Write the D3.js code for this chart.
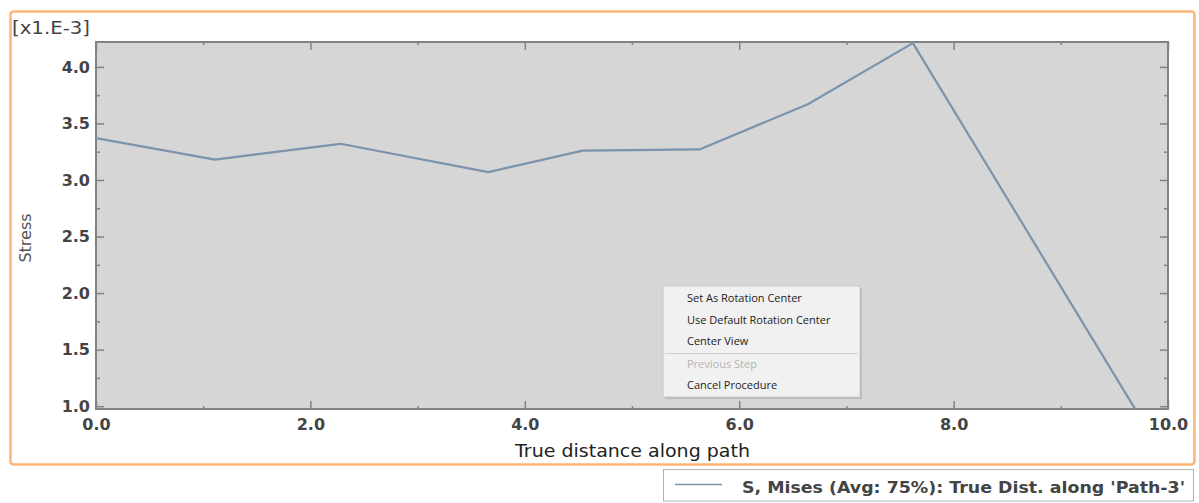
<!DOCTYPE html>
<html>
<head>
<meta charset="utf-8">
<script src="https://cdn.jsdelivr.net/npm/d3@7"></script>
<style>
  html, body { margin: 0; padding: 0; background: #ffffff; }
  svg { display: block; }
</style>
</head>
<body>
<svg id="chart" width="1199" height="503"></svg>
<script>
// ---- data ----
const distance = [0.0, 1.11, 2.28, 3.66, 4.54, 5.63, 6.64, 7.62, 9.69];
const stress   = [3.37, 3.18, 3.32, 3.07, 3.26, 3.27, 3.67, 4.21, 0.98];
const xMajorTicks = [0, 2, 4, 6, 8, 10];
const xMinorTicks = [1, 3, 5, 7, 9];
const yMajorTicks = [1.0, 1.5, 2.0, 2.5, 3.0, 3.5, 4.0];
const yMinorTicks = [1.25, 1.75, 2.25, 2.75, 3.25, 3.75];
const yScaleLabel = "[x1.E-3]";
const yTitle = "Stress";
const xTitle = "True distance along path";
const legendLabel = "S, Mises (Avg: 75%): True Dist. along 'Path-3'";
const menuItems = ["Set As Rotation Center", "Use Default Rotation Center", "Center View", "Previous Step", "Cancel Procedure"];
const menuDisabled = [false, false, false, true, false];

// ---- layout ----
const svg = d3.select("#chart");
const L = 96, R = 1168, T = 42, B = 409;
const x = d3.scaleLinear().domain([0, 10]).range([L, R]);
const y = d3.scaleLinear().domain([0.975, 4.22]).range([B, T]);
const frameColor = "#828282";
const font = "'DejaVu Sans', Verdana, sans-serif";

// orange outer frame
svg.append("rect")
  .attr("x", 10.5).attr("y", 11.5).attr("width", 1184).attr("height", 453)
  .attr("rx", 3).attr("fill", "none")
  .attr("stroke", "#fcb677").attr("stroke-width", 2.5);

// plot background
svg.append("rect")
  .attr("x", L).attr("y", T).attr("width", R - L).attr("height", B - T)
  .attr("fill", "#d6d6d6");

// clip
svg.append("defs").append("clipPath").attr("id", "plotclip")
  .append("rect").attr("x", L).attr("y", T).attr("width", R - L).attr("height", B - T);

// axes helpers
function styleAxis(g) {
  g.select(".domain").remove();
  g.selectAll("line").attr("stroke", frameColor).attr("stroke-width", 1.5);
  g.selectAll("text").attr("fill", "#444").attr("font-family", font)
    .attr("font-size", 16).attr("font-weight", "bold");
}
const fmt = d3.format(".1f");

// bottom major
svg.append("g").attr("transform", `translate(0,${B})`)
  .call(d3.axisBottom(x).tickValues(xMajorTicks).tickFormat(fmt).tickSizeInner(-8).tickSizeOuter(0).tickPadding(10))
  .call(styleAxis);
// bottom minor
svg.append("g").attr("transform", `translate(0,${B})`)
  .call(d3.axisBottom(x).tickValues(xMinorTicks).tickFormat("").tickSizeInner(-3).tickSizeOuter(0))
  .call(styleAxis);
// top
svg.append("g").attr("transform", `translate(0,${T})`)
  .call(d3.axisTop(x).tickValues(xMajorTicks).tickFormat("").tickSizeInner(-8).tickSizeOuter(0))
  .call(styleAxis);
svg.append("g").attr("transform", `translate(0,${T})`)
  .call(d3.axisTop(x).tickValues(xMinorTicks).tickFormat("").tickSizeInner(-3).tickSizeOuter(0))
  .call(styleAxis);
// left
svg.append("g").attr("transform", `translate(${L},0)`)
  .call(d3.axisLeft(y).tickValues(yMajorTicks).tickFormat(fmt).tickSizeInner(-8).tickSizeOuter(0).tickPadding(6))
  .call(styleAxis);
svg.append("g").attr("transform", `translate(${L},0)`)
  .call(d3.axisLeft(y).tickValues(yMinorTicks).tickFormat("").tickSizeInner(-4).tickSizeOuter(0))
  .call(styleAxis);
// right
svg.append("g").attr("transform", `translate(${R},0)`)
  .call(d3.axisRight(y).tickValues(yMajorTicks).tickFormat("").tickSizeInner(-8).tickSizeOuter(0))
  .call(styleAxis);
svg.append("g").attr("transform", `translate(${R},0)`)
  .call(d3.axisRight(y).tickValues(yMinorTicks).tickFormat("").tickSizeInner(-4).tickSizeOuter(0))
  .call(styleAxis);

// frame
svg.append("rect")
  .attr("x", L).attr("y", T).attr("width", R - L).attr("height", B - T)
  .attr("fill", "none").attr("stroke", frameColor).attr("stroke-width", 2);

// data line
const pts = distance.map((d, i) => [d, stress[i]]);
svg.append("path")
  .datum(pts)
  .attr("clip-path", "url(#plotclip)")
  .attr("fill", "none")
  .attr("stroke", "#7b93ab")
  .attr("stroke-width", 2.2)
  .attr("stroke-linejoin", "round")
  .attr("d", d3.line().x(d => x(d[0])).y(d => y(d[1])));

// scale label and titles
svg.append("text").attr("x", 12).attr("y", 34)
  .attr("font-family", font).attr("font-size", 17).attr("fill", "#444")
  .attr("textLength", 78).attr("lengthAdjust", "spacingAndGlyphs")
  .text(yScaleLabel);
svg.append("text")
  .attr("transform", "translate(31,238) rotate(-90)")
  .attr("text-anchor", "middle")
  .attr("font-family", font).attr("font-size", 16).attr("fill", "#555")
  .text(yTitle);
svg.append("text").attr("x", 515).attr("y", 457)
  .attr("font-family", font).attr("font-size", 17).attr("fill", "#222")
  .attr("textLength", 235).attr("lengthAdjust", "spacingAndGlyphs")
  .text(xTitle);

// context menu overlay
const mx = 663, my = 286, mw = 197, mh = 111;
svg.append("rect").attr("x", mx + 2).attr("y", my + 2).attr("width", mw).attr("height", mh)
  .attr("fill", "#a8a8a8").attr("opacity", 0.6);
svg.append("rect").attr("x", mx).attr("y", my).attr("width", mw).attr("height", mh)
  .attr("fill", "#f1f1f1").attr("stroke", "#c8c8c8").attr("stroke-width", 1);
const itemY = [302, 324, 345, 368, 389];
menuItems.forEach((t, i) => {
  svg.append("text").attr("x", 687).attr("y", itemY[i])
    .attr("font-family", "'Open Sans', 'Liberation Sans', sans-serif")
    .attr("font-size", 11)
    .attr("fill", menuDisabled[i] ? "#b4b4b4" : "#222")
    .text(t);
});
svg.append("line").attr("x1", mx + 2).attr("x2", mx + mw - 2).attr("y1", 353.5).attr("y2", 353.5)
  .attr("stroke", "#d0d0d0").attr("stroke-width", 1);

// legend
svg.append("rect").attr("x", 663.5).attr("y", 469.5).attr("width", 530).attr("height", 31.5)
  .attr("fill", "#fff").attr("stroke", "#b0b0b0").attr("stroke-width", 1);
svg.append("line").attr("x1", 675).attr("x2", 722).attr("y1", 484.5).attr("y2", 484.5)
  .attr("stroke", "#7b93ab").attr("stroke-width", 1.5);
svg.append("text").attr("x", 742).attr("y", 493)
  .attr("font-family", font).attr("font-size", 16).attr("font-weight", "bold").attr("fill", "#444")
  .attr("textLength", 443).attr("lengthAdjust", "spacingAndGlyphs")
  .text(legendLabel);
</script>
</body>
</html>
